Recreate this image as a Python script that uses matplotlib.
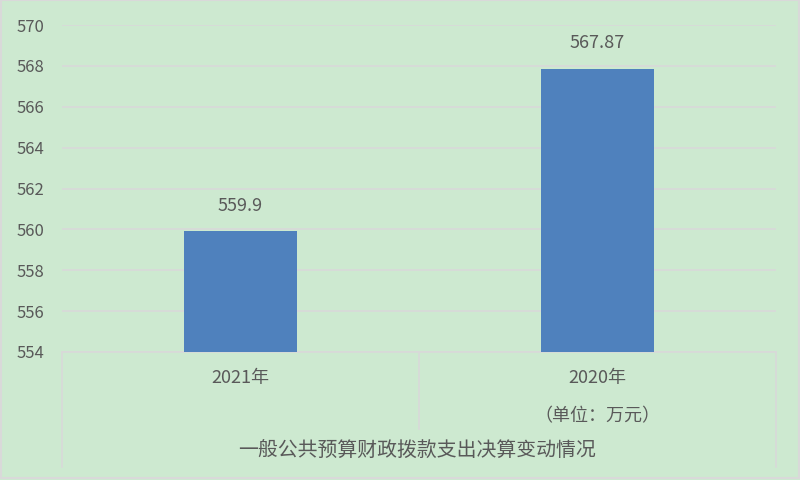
import matplotlib.pyplot as plt
from matplotlib.lines import Line2D

plt.rcParams['font.family'] = ['Noto Sans CJK SC', 'DejaVu Sans']

# Chart data
categories = ["2021年", "2020年\n（单位：万元）"]
values = [559.9, 567.87]
value_labels = ["559.9", "567.87"]
y_ticks = [554, 556, 558, 560, 562, 564, 566, 568, 570]
axis_title = "一般公共预算财政拨款支出决算变动情况"

bg = "#cde9d0"
bar_color = "#4f81bd"
text_color = "#595959"
grid_color = "#d9d9d9"

fig = plt.figure(figsize=(8, 4.8), dpi=100, facecolor=bg)
ax = fig.add_axes([62 / 800, 1 - 352 / 480, 714 / 800, 327 / 480])
ax.set_facecolor(bg)

x = list(range(len(categories)))
bars = ax.bar(x, values, width=0.315, color=bar_color, zorder=3)

ax.set_ylim(y_ticks[0], y_ticks[-1])
ax.set_xlim(-0.5, len(categories) - 0.5)
ax.set_yticks(y_ticks)
ax.yaxis.grid(True, color=grid_color, linewidth=1.2, zorder=0)
ax.tick_params(axis="y", length=0, pad=13, labelsize=12, labelcolor=text_color)
ax.tick_params(axis="x", length=0, pad=12, labelsize=13, labelcolor=text_color)
ax.set_xticks(x)
ax.set_xticklabels(categories, linespacing=2.45)
for side in ["top", "right", "left"]:
    ax.spines[side].set_visible(False)
ax.spines["bottom"].set_color(grid_color)
ax.spines["bottom"].set_linewidth(1.2)

for b, lab in zip(bars, value_labels):
    ax.annotate(lab, (b.get_x() + b.get_width() / 2, b.get_height()),
                xytext=(0, 12), textcoords="offset points",
                ha="center", va="bottom", fontsize=13, color=text_color)

# table-like frame below the axis
trans = ax.get_xaxis_transform()
bottom_outer = -115 / 327
bottom_inner = -77 / 327
for xb, yb in [(-0.5, bottom_outer), (0.5, bottom_inner), (len(categories) - 0.5, bottom_outer)]:
    ax.add_line(Line2D([xb, xb], [0, yb], transform=trans, color=grid_color,
                       linewidth=1.2, clip_on=False))

fig.text(417 / 800, 1 - 450 / 480, axis_title, ha="center", va="center",
         fontsize=14.3, color=text_color)

# light frame around the chart area
fig.add_artist(plt.Rectangle((0.001, 0.004), 0.998, 0.995, transform=fig.transFigure,
                             fill=False, edgecolor=grid_color, linewidth=1.5))

fig.savefig("out.png", dpi=100, facecolor=bg)
